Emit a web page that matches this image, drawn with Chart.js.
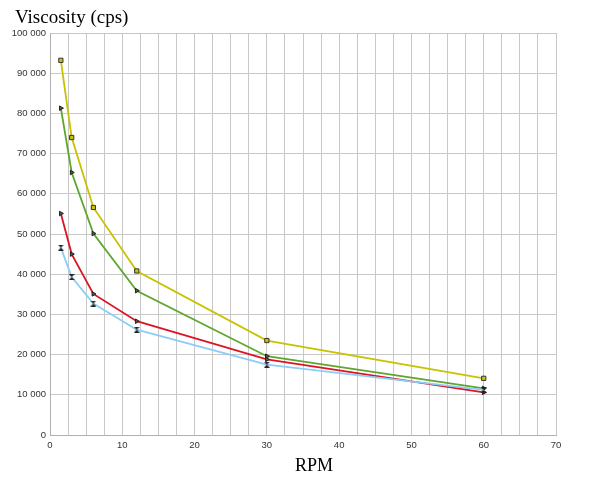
<!DOCTYPE html>
<html>
<head>
<meta charset="utf-8">
<script src="https://cdn.jsdelivr.net/npm/chart.js@4.4.1/dist/chart.umd.min.js"></script>
<style>
html,body{margin:0;padding:0;background:#fff;}
#wrap{width:600px;height:481px;position:relative;}
</style>
</head>
<body>
<div id="wrap"><canvas id="c" width="600" height="481"></canvas></div>
<script>
const rpm = [1.5, 3, 6, 12, 30, 60];
const seriesYellow = [93200, 74000, 56600, 40800, 23500, 14100];
const seriesGreen  = [81300, 65300, 50100, 35900, 19600, 11600];
const seriesRed    = [55100, 45000, 35100, 28300, 18800, 10600];
const seriesBlue   = [46600, 39300, 32700, 26200, 17500, 11200];
const yTitle = 'Viscosity (cps)';
const xTitle = 'RPM';

function pts(ys){ return rpm.map((x,i)=>({x:x,y:ys[i]})); }

function hourglass(){
  const c = document.createElement('canvas');
  c.width = 6; c.height = 6;
  const g = c.getContext('2d');
  g.fillStyle = '#222';
  g.beginPath(); g.moveTo(0,0); g.lineTo(6,0); g.lineTo(3,3); g.closePath(); g.fill();
  g.beginPath(); g.moveTo(0,6); g.lineTo(6,6); g.lineTo(3,3); g.closePath(); g.fill();
  return c;
}

const fmt = v => String(v).replace(/\B(?=(\d{3})+(?!\d))/g, ' ');

const titles = {
  id:'titles',
  afterDraw(chart){
    const ctx = chart.ctx;
    ctx.save();
    ctx.fillStyle = '#000';
    ctx.textBaseline = 'alphabetic';
    ctx.font = '19px "Liberation Serif", "Times New Roman", serif';
    ctx.textAlign = 'left';
    ctx.fillText(yTitle, 15, 23);
    ctx.font = '18px "Liberation Serif", "Times New Roman", serif';
    ctx.textAlign = 'center';
    ctx.fillText(xTitle, 314, 471);
    ctx.restore();
  }
};

new Chart(document.getElementById('c'), {
  type: 'scatter',
  data: {
    datasets: [
      {label:'blue', data: pts(seriesBlue), showLine:true, borderColor:'#8ccdf7', borderWidth:1.8,
       pointStyle: hourglass(), pointRadius:3, backgroundColor:'#222'},
      {label:'red', data: pts(seriesRed), showLine:true, borderColor:'#dc1424', borderWidth:1.8,
       pointStyle:'triangle', rotation:90, pointRadius:2.6, backgroundColor:'#555', pointBorderColor:'#222', pointBorderWidth:1},
      {label:'green', data: pts(seriesGreen), showLine:true, borderColor:'#5fa62e', borderWidth:1.8,
       pointStyle:'triangle', rotation:90, pointRadius:2.6, backgroundColor:'#555', pointBorderColor:'#222', pointBorderWidth:1},
      {label:'yellow', data: pts(seriesYellow), showLine:true, borderColor:'#c8c200', borderWidth:1.8,
       pointStyle:'rect', pointRadius:3, backgroundColor:'#c8c200', pointBorderColor:'#333', pointBorderWidth:1}
    ]
  },
  options: {
    responsive:false,
    animation:false,
    devicePixelRatio:1,
    layout:{padding:{left:0, right:44, top:33, bottom:0}},
    plugins:{legend:{display:false}, tooltip:{enabled:false}, title:{display:false}},
    scales:{
      x:{
        type:'linear', min:0, max:70,
        afterFit(s){ s.height = 46; },
        grid:{color:'#c8c8c8', lineWidth:1, drawTicks:false},
        border:{color:'#b0b0b0', width:1},
        ticks:{stepSize:2.5, autoSkip:false, maxRotation:0, padding:5, color:'#333',
          font:{family:'"Liberation Sans", Arial, sans-serif', size:9.5},
          callback:v => (v % 10 === 0 ? String(v) : '')}
      },
      y:{
        type:'linear', min:0, max:100000,
        afterFit(s){ s.width = 50; },
        grid:{color:'#c8c8c8', lineWidth:1, drawTicks:false},
        border:{color:'#b0b0b0', width:1},
        ticks:{stepSize:10000, padding:4, color:'#333',
          font:{family:'"Liberation Sans", Arial, sans-serif', size:9.5},
          callback:v => fmt(v)}
      }
    }
  },
  plugins:[titles]
});
</script>
</body>
</html>
